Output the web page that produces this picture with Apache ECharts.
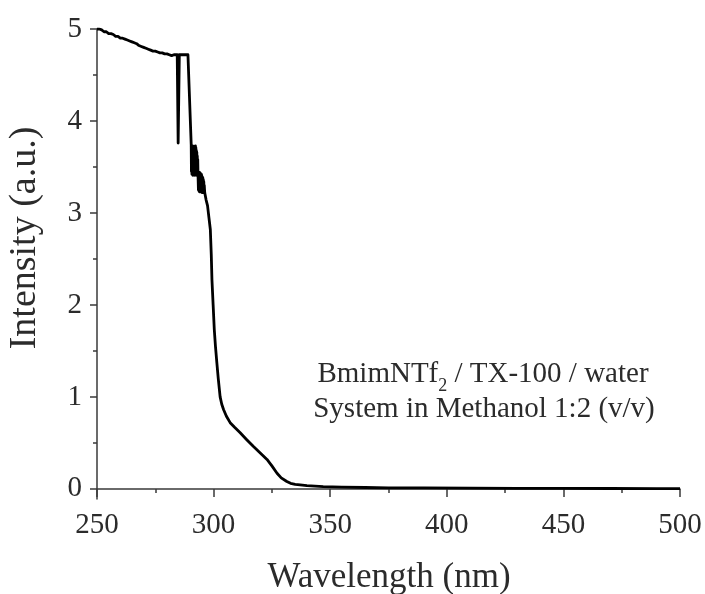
<!DOCTYPE html>
<html>
<head>
<meta charset="utf-8">
<script src="https://cdn.jsdelivr.net/npm/echarts@6/dist/echarts.min.js"></script>
<style>
  html, body { margin: 0; padding: 0; background: #fff; }
  #chart { width: 705px; height: 594px; }
</style>
</head>
<body>
<div id="chart"></div>
<script>
// UV-Vis absorption spectrum: wavelength (nm) and intensity (a.u.)
const wavelength = [
  250, 251, 252, 253, 254, 255, 256, 257, 258, 259,
  260, 261, 262, 263, 264, 265, 266, 267, 268, 269,
  270, 271, 272, 273, 274, 275, 276, 277, 278, 279,
  280, 281, 282, 283, 283.6, 284.4, 284.8, 284.9, 285.0, 285.3,
  286, 287, 288, 289, 289.4, 290.4,
  290.5, 290.6, 290.7, 290.8, 290.9, 291.0, 291.1, 291.2, 291.3, 291.4,
  291.5, 291.6, 291.7, 291.8, 291.9, 292.0, 292.1, 292.2, 292.3, 292.4,
  292.5, 292.6, 292.7, 292.8, 292.9, 293.0, 293.1, 293.2, 293.3, 293.4,
  293.5, 293.6, 293.7, 293.8, 293.9, 294.0, 294.1, 294.2, 294.3, 294.4,
  294.5, 294.6, 294.7, 294.8, 294.9, 295.0, 295.1, 295.2, 295.3, 295.4,
  295.5, 295.6, 295.7, 295.8, 295.9, 296.0, 296.2, 296.4, 296.8, 297.4,
  298.0, 298.6, 299.0, 299.3, 299.8, 300.3, 300.8, 301.4, 302.0, 302.8,
  303.5, 304.3, 305.5, 307.1, 309, 311.4, 314, 317.1, 320, 322.9,
  325, 327.2, 329, 331.4, 333, 335, 337.1, 340, 347, 355,
  365, 375, 390, 410, 430, 450, 470, 490, 500
];
const intensity = [
  5.00, 5.00, 4.99, 4.97, 4.97, 4.95, 4.95, 4.94, 4.92, 4.92,
  4.90, 4.90, 4.89, 4.88, 4.87, 4.86, 4.85, 4.84, 4.82, 4.81,
  4.80, 4.79, 4.78, 4.77, 4.76, 4.76, 4.75, 4.74, 4.74, 4.73,
  4.73, 4.72, 4.71, 4.72, 4.73, 4.72, 3.76, 3.74, 3.75, 4.72,
  4.72, 4.72, 4.72, 4.72, 4.70, 3.74,
  3.45, 3.72, 3.42, 3.70, 3.43, 3.73, 3.41, 3.68, 3.44, 3.71,
  3.42, 3.72, 3.41, 3.69, 3.43, 3.70, 3.42, 3.73, 3.44, 3.71,
  3.41, 3.68, 3.43, 3.66, 3.42, 3.62, 3.44, 3.58, 3.43, 3.45,
  3.25, 3.44, 3.24, 3.43, 3.23, 3.44, 3.24, 3.42, 3.23, 3.43,
  3.25, 3.41, 3.23, 3.42, 3.24, 3.40, 3.22, 3.39, 3.24, 3.38,
  3.23, 3.36, 3.22, 3.34, 3.23, 3.30, 3.22, 3.20, 3.14, 3.08,
  2.95, 2.82, 2.55, 2.27, 2.00, 1.73, 1.55, 1.37, 1.20, 1.00,
  0.92, 0.86, 0.79, 0.72, 0.67, 0.61, 0.54, 0.46, 0.39, 0.32,
  0.25, 0.17, 0.12, 0.08, 0.06, 0.05, 0.044, 0.035, 0.025, 0.02,
  0.015, 0.012, 0.010, 0.008, 0.006, 0.005, 0.004, 0.003, 0.002
];

// Axis ticks
const yMajorTicks = [0, 1, 2, 3, 4, 5];
const yMinorTicks = [0.5, 1.5, 2.5, 3.5, 4.5];

const xTitle = 'Wavelength (nm)';
const yTitle = 'Intensity (a.u.)';
const noteLine1 = ['BmimNTf', '2', ' / TX-100 / water'];
const noteLine2 = 'System in Methanol 1:2 (v/v)';

const serif = '"Liberation Serif", "DejaVu Serif", serif';
const inkColor = '#2b2b2b';
const axisColor = '#3a3a3a';

const chart = echarts.init(document.getElementById('chart'), null, { renderer: 'canvas' });

const points = wavelength.map((w, i) => [w, intensity[i]]);

const option = {
  backgroundColor: '#ffffff',
  animation: false,
  grid: { left: 97, right: 25, top: 29, bottom: 95, containLabel: false },
  xAxis: {
    type: 'value',
    min: 250, max: 500, interval: 50,
    axisLine: { show: true, lineStyle: { color: axisColor, width: 1.5 } },
    axisTick: { show: true, inside: false, length: 8, lineStyle: { color: axisColor, width: 1.5 } },
    minorTick: { show: true, splitNumber: 2, length: 4, lineStyle: { color: axisColor, width: 1.5 } },
    splitLine: { show: false },
    axisLabel: { color: inkColor, fontFamily: serif, fontSize: 29, margin: 12 }
  },
  yAxis: [
    {
      type: 'value',
      min: -0.11, max: 5,
      axisLine: { show: true, lineStyle: { color: axisColor, width: 1.5 } },
      axisTick: { show: true, inside: false, length: 7, customValues: yMajorTicks, lineStyle: { color: axisColor, width: 1.5 } },
      splitLine: { show: false },
      axisLabel: { color: inkColor, fontFamily: serif, fontSize: 29, margin: 15, customValues: yMajorTicks }
    },
    {
      type: 'value',
      min: -0.11, max: 5,
      position: 'left',
      axisLine: { show: false },
      axisTick: { show: true, inside: false, length: 4, customValues: yMinorTicks, lineStyle: { color: axisColor, width: 1.5 } },
      splitLine: { show: false },
      axisLabel: { show: false }
    }
  ],
  series: [
    {
      type: 'line',
      data: points,
      xAxisIndex: 0,
      yAxisIndex: 0,
      showSymbol: false,
      symbol: 'none',
      smooth: false,
      sampling: null,
      lineStyle: { color: '#000000', width: 2.8, join: 'round' }
    }
  ],
  graphic: [
    {
      type: 'text',
      x: 389, y: 578,
      style: { text: xTitle, font: '35px ' + serif, fill: inkColor, align: 'center', verticalAlign: 'middle' }
    },
    {
      type: 'text',
      x: 25, y: 238,
      rotation: Math.PI / 2,
      style: { text: yTitle, font: '38px ' + serif, fill: inkColor, align: 'center', verticalAlign: 'middle' }
    },
    {
      type: 'text',
      x: 483, y: 374,
      style: {
        text: '{a|' + noteLine1[0] + '}{s|' + noteLine1[1] + '}{a|' + noteLine1[2] + '}',
        align: 'center', verticalAlign: 'middle',
        rich: {
          a: { fontFamily: serif, fontSize: 29, fill: inkColor, color: inkColor, lineHeight: 34, verticalAlign: 'middle' },
          s: { fontFamily: serif, fontSize: 18, fill: inkColor, color: inkColor, lineHeight: 34, verticalAlign: 'bottom', padding: [0, 0, -4, 0] }
        }
      }
    },
    {
      type: 'text',
      x: 484, y: 409,
      style: { text: noteLine2, font: '29px ' + serif, fill: inkColor, align: 'center', verticalAlign: 'middle' }
    }
  ]
};

chart.setOption(option);
</script>
</body>
</html>
